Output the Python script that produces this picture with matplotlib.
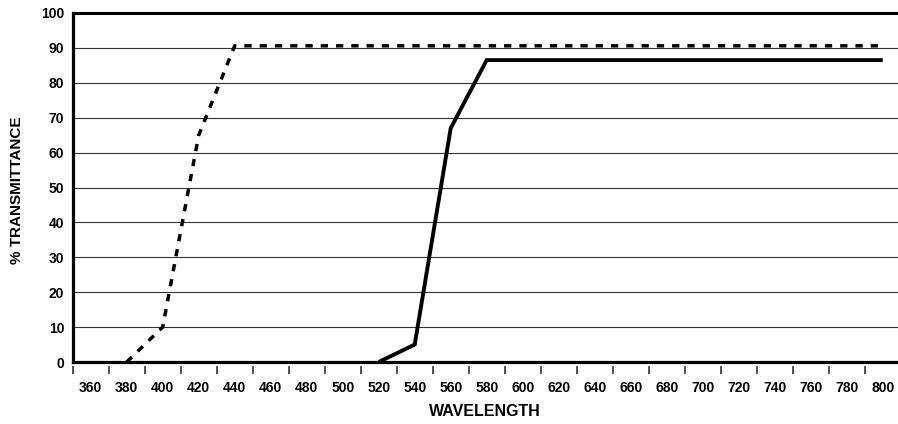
import matplotlib
matplotlib.use('Agg')
import matplotlib.pyplot as plt

plt.rcParams['font.family'] = ['Liberation Sans', 'DejaVu Sans']
plt.rcParams['font.weight'] = 'bold'

# filter curves (wavelength nm, % transmittance)
dashed_wl = [380, 400, 420, 440, 800]
dashed_t = [0, 10, 65, 90.6, 90.6]
solid_wl = [520, 540, 560, 580, 800]
solid_t = [0, 5, 67, 86.5, 86.5]

x_labels = list(range(360, 801, 20))
x_marks = list(range(350, 791, 20))
y_ticks = list(range(0, 101, 10))

fig = plt.figure(figsize=(8.98, 4.24), dpi=100)
ax = fig.add_axes([72.7/898, 62/424, 1 - 72.7/898, (362-13)/424])

ax.plot(dashed_wl, dashed_t, color='black', lw=2.5, dashes=(2.1, 2.3),
        dash_capstyle='butt', solid_joinstyle='miter', clip_on=False, zorder=3)
ax.plot(solid_wl, solid_t, color='black', lw=2.8, solid_capstyle='butt',
        solid_joinstyle='miter', clip_on=False, zorder=3)

ax.set_xlim(350, 350 + (898 - 72.7) / 1.8)
ax.set_ylim(0, 100)

# grid lines
for y in y_ticks[1:-1]:
    ax.axhline(y, color='#333333', lw=0.8, zorder=1)
ax.axhline(0, color='black', lw=2.3, clip_on=False, zorder=2)

ax.spines['right'].set_visible(False)
ax.spines['top'].set_linewidth(2.2)
ax.spines['left'].set_linewidth(2.3)
ax.spines['bottom'].set_color('none')
ax.spines['bottom'].set_position(('outward', 3))

ax.set_xticks(x_labels)
ax.set_xticklabels([str(v) for v in x_labels], fontsize=10, fontweight='bold')
ax.set_xticks(x_marks, minor=True)
ax.tick_params(axis='x', which='major', length=0, pad=10.5)
ax.tick_params(axis='x', which='minor', length=6, width=1.1, color='#222222', direction='out')

ax.set_yticks(y_ticks)
ax.set_yticklabels([str(v) for v in y_ticks], fontsize=10, fontweight='bold')
ax.tick_params(axis='y', length=0, pad=6)

ax.set_xlabel('WAVELENGTH', fontsize=11.5, fontweight='bold', labelpad=7)
fig.text(17.5/898, 1 - 190/424, '% TRANSMITTANCE', rotation=90, ha='center', va='center',
         fontsize=11, fontweight='bold')

fig.savefig('out.png', dpi=100)
